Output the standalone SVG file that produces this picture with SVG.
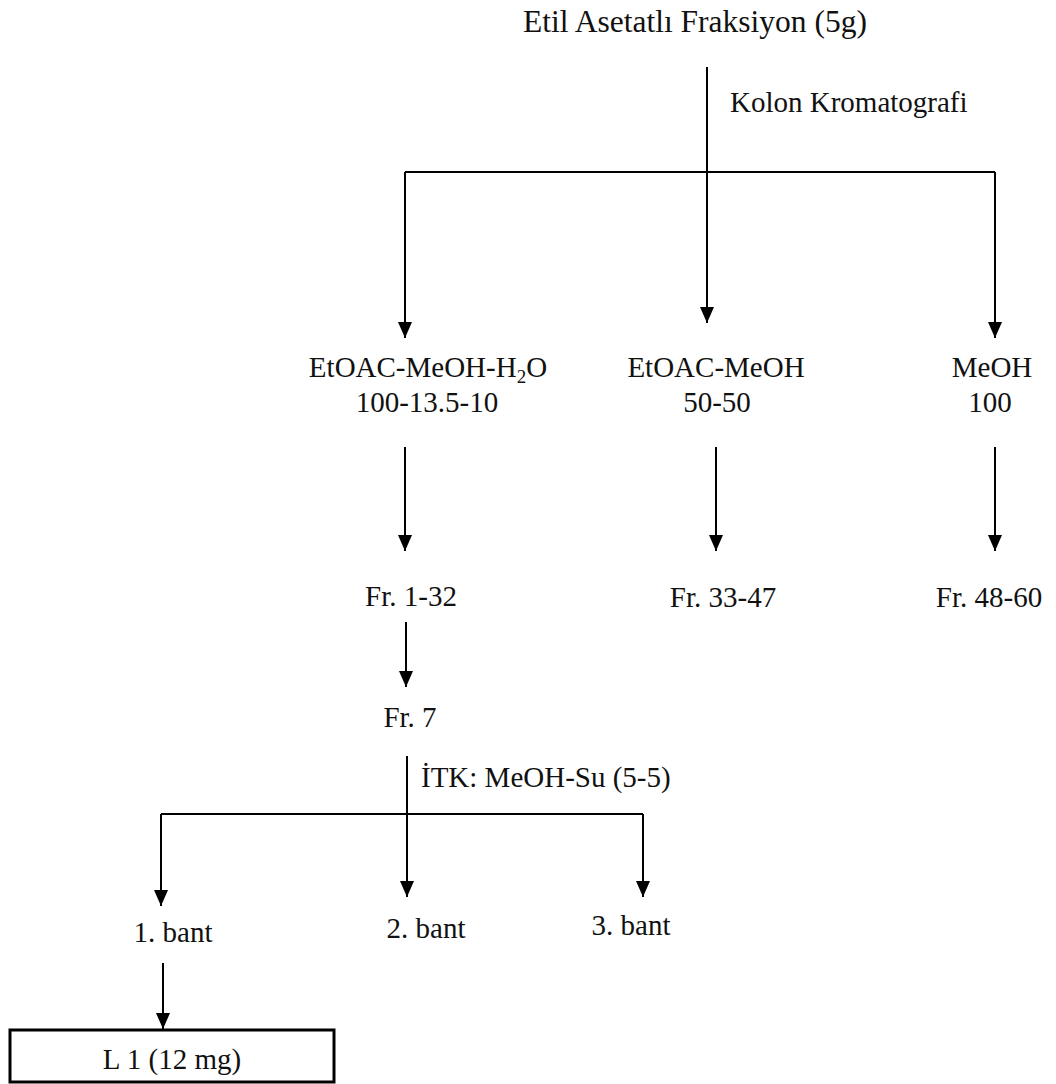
<svg xmlns="http://www.w3.org/2000/svg" width="1056" height="1084" viewBox="0 0 1056 1084">
<style>
text{font-family:"Liberation Serif","Times New Roman",serif;font-size:29px;fill:#111;}
.c{text-anchor:middle;}
.ln{stroke:#000;stroke-width:2;fill:none;}
.ar{stroke:#000;stroke-width:2;fill:none;marker-end:url(#ah);}
.box{stroke:#000;stroke-width:3;fill:#fff;}
</style>
<defs>
<marker id="ah" viewBox="0 0 16 14" refX="16" refY="7" markerWidth="16" markerHeight="14" markerUnits="userSpaceOnUse" orient="auto">
<path d="M0,0 L16,7 L0,14 z" fill="#000"/>
</marker>
</defs>
<rect width="1056" height="1084" fill="#fff"/>
<g id="connectors">
<line class="ar" x1="707" y1="67" x2="707" y2="323"/>
<line class="ln" x1="405" y1="172" x2="995" y2="172"/>
<line class="ar" x1="405" y1="172" x2="405" y2="338"/>
<line class="ar" x1="995" y1="172" x2="995" y2="338"/>
<line class="ar" x1="405" y1="447" x2="405" y2="551"/>
<line class="ar" x1="716" y1="447" x2="716" y2="551"/>
<line class="ar" x1="995" y1="447" x2="995" y2="551"/>
<line class="ar" x1="406" y1="622" x2="406" y2="687"/>
<line class="ar" x1="407" y1="756" x2="407" y2="897"/>
<line class="ln" x1="161" y1="814" x2="643" y2="814"/>
<line class="ar" x1="161" y1="814" x2="161" y2="906"/>
<line class="ar" x1="643" y1="814" x2="643" y2="897"/>
<line class="ar" x1="163" y1="963" x2="163" y2="1029"/>
</g>
<g id="n-title"><text class="c" x="695" y="32" style="font-size:31.5px">Etil Asetatlı Fraksiyon (5g)</text></g>
<g id="l-kolon"><text x="730" y="112">Kolon Kromatografi</text></g>
<g id="n-etoac-meoh-h2o"><text class="c" x="428" y="377">EtOAC-MeOH-H<tspan style="font-size:19px" dy="6">2</tspan><tspan dy="-6">O</tspan></text><text class="c" x="427" y="412">100-13.5-10</text></g>
<g id="n-etoac-meoh"><text class="c" x="716" y="377">EtOAC-MeOH</text><text class="c" x="717" y="412">50-50</text></g>
<g id="n-meoh"><text class="c" x="992" y="377">MeOH</text><text class="c" x="990" y="412">100</text></g>
<g id="n-fr1-32"><text class="c" x="411" y="606">Fr. 1-32</text></g>
<g id="n-fr33-47"><text class="c" x="723" y="607">Fr. 33-47</text></g>
<g id="n-fr48-60"><text class="c" x="989" y="607">Fr. 48-60</text></g>
<g id="n-fr7"><text class="c" x="410" y="727">Fr. 7</text></g>
<g id="l-itk"><text x="421" y="787">İTK: MeOH-Su (5-5)</text></g>
<g id="n-bant1"><text class="c" x="173" y="942">1. bant</text></g>
<g id="n-bant2"><text class="c" x="426" y="938">2. bant</text></g>
<g id="n-bant3"><text class="c" x="631" y="935">3. bant</text></g>
<g id="n-l1"><rect class="box" x="10" y="1030" width="324" height="52"/><text class="c" x="172" y="1069">L 1 (12 mg)</text></g>
</svg>
